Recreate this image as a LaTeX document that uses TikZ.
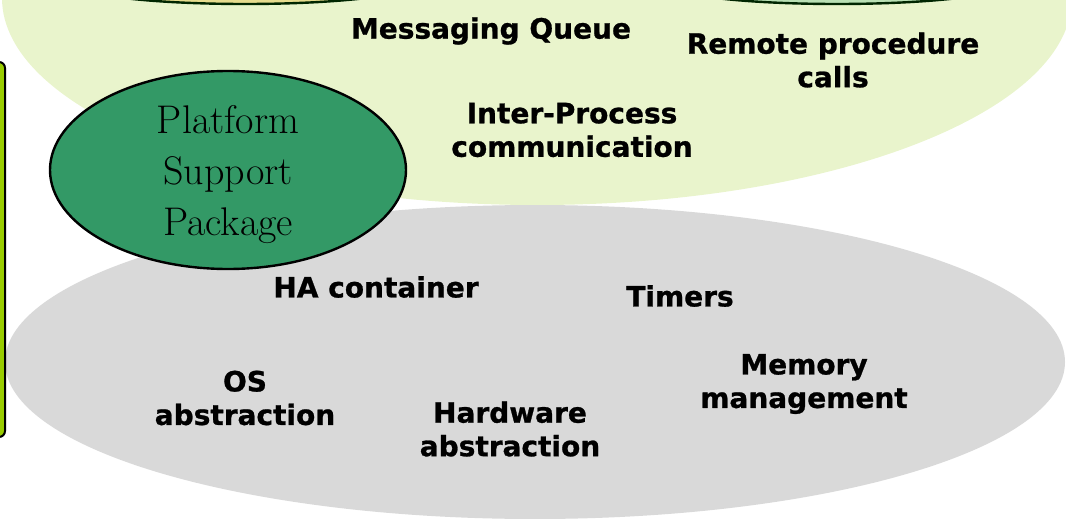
\documentclass[tikz,border=0pt]{standalone}
\usepackage{fontspec}
\setmainfont{DejaVu Sans}[BoldFeatures={FakeBold=0.9}]
\newfontfamily\pspfont{Latin Modern Roman}
\definecolor{topgreen}{HTML}{E9F4CC}
\definecolor{lowgray}{HTML}{D9D9D9}
\definecolor{pspgreen}{HTML}{339966}
\definecolor{barlime}{HTML}{99CC00}
\definecolor{capyellow}{HTML}{E6DC8E}
\definecolor{capgreen}{HTML}{B9E0B4}
\tikzset{
  lbl/.style={font=\fontsize{28}{33.5}\selectfont\bfseries, align=center, inner sep=0pt, text=black},
  pspstyle/.style={font=\pspfont\fontsize{40}{51}\selectfont, align=center, inner sep=0pt, text=black}
}
\begin{document}
\begin{tikzpicture}[x=1pt,y=-1pt]
\useasboundingbox (0,0) rectangle (1066,519);
\begin{scope}
\clip (0,0) rectangle (1066,519);
% top green layer
\fill[topgreen] (537,-2) ellipse [x radius=535pt, y radius=207pt];
% cropped top ellipses
\filldraw[fill=capyellow, draw=black!85!green, line width=2.4pt] (245,-16) ellipse [x radius=170pt, y radius=20pt];
\filldraw[fill=capgreen, draw=black!85!green, line width=2.4pt] (837,-16) ellipse [x radius=170pt, y radius=20pt];
% bottom gray layer
\fill[lowgray] (535,362) ellipse [x radius=530pt, y radius=157pt];
% left bar
\filldraw[fill=barlime, draw=black, line width=2pt, rounded corners=6pt] (-20,62) rectangle (5,437);
% platform support package
\filldraw[fill=pspgreen, draw=black, line width=2.4pt] (228,170) ellipse [x radius=178pt, y radius=99pt];
\end{scope}
\node[pspstyle] (psp) at (228,175) {Platform\\Support\\Package};
\node[lbl] (mq) at (491,31) {Messaging Queue};
\node[lbl] (rpc) at (833,60) {Remote procedure\\calls};
\node[lbl] (ipc) at (572,130) {Inter-Process\\communication};
\node[lbl] (ha) at (376,287) {HA container};
\node[lbl] (tim) at (680,296) {Timers};
\node[lbl] (os) at (245,398) {OS\\abstraction};
\node[lbl] (hw) at (510,429) {Hardware\\abstraction};
\node[lbl] (mem) at (804,384) {Memory\\management};
\end{tikzpicture}
\end{document}
